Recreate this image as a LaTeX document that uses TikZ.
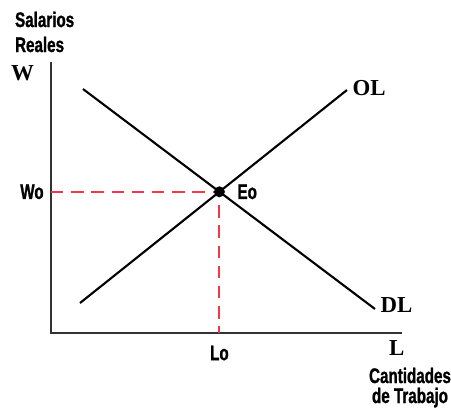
\documentclass[tikz,border=0pt]{standalone}
\usepackage{fontspec}
\setmainfont{Liberation Serif}
\newfontfamily\axisfont[FakeStretch=0.72,FakeBold=1.2]{Liberation Sans Bold}
\usetikzlibrary{positioning}
\definecolor{dashred}{RGB}{240,56,72}
\tikzset{
 curve/.style={line width=1.2pt},
 axisline/.style={line width=0.8pt,black!80},
 guide/.style={draw=dashred,line width=1.2pt,dash pattern=on 7pt off 4.5pt},
 sanslabel/.style={font=\axisfont\fontsize{12}{14}\selectfont,inner sep=1pt},
 seriflabel/.style={font=\bfseries\fontsize{13}{15}\selectfont,inner sep=1pt}
}

\begin{document}
\begin{tikzpicture}[x=0.02cm,y=-0.02cm]
\useasboundingbox (0,0) rectangle (451,407);
% axes
\coordinate (O) at (51,333);
\coordinate (ytop) at (51,62);
\coordinate (xend) at (402,333);
\draw[axisline] (ytop) -- (O) -- (xend);
% supply and demand
\coordinate (ol1) at (80,303); \coordinate (ol2) at (347,90);
\coordinate (dl1) at (83,89); \coordinate (dl2) at (375,309);
\draw[curve] (ol1) -- (ol2);
\draw[curve] (dl1) -- (dl2);
\coordinate (E) at (intersection of ol1--ol2 and dl1--dl2);
\coordinate (Ey) at (O |- E);
\coordinate (Ex) at (E |- O);
\draw[guide] (Ey) -- (E) -- (Ex);
\fill (E) circle (5.5);
% labels
\node[sanslabel,anchor=base west] (sal) at (13,27) {Salarios};
\node[sanslabel,anchor=base west] (real) at (13,52) {Reales};
\node[seriflabel,anchor=north east] (W) at ([xshift=-8.5pt,yshift=-1pt]ytop) {W};
\node[sanslabel,left=3pt of Ey] (W0) {Wo};
\node[sanslabel,right=16 of E] (E0) {Eo};
\node[seriflabel,anchor=west] (OL) at ([xshift=2pt,yshift=1pt]ol2) {OL};
\node[seriflabel,anchor=west] (DL) at ([xshift=2pt,yshift=2pt]dl2) {DL};
\node[seriflabel,anchor=north] (L) at ([xshift=-3pt,yshift=-3pt]xend) {L};
\node[sanslabel,below=6pt of Ex] (L0) {Lo};
\node[sanslabel,anchor=base] (cant) at (410,383) {Cantidades};
\node[sanslabel,anchor=base] (trab) at (410,403) {de Trabajo};
\end{tikzpicture}
\end{document}
